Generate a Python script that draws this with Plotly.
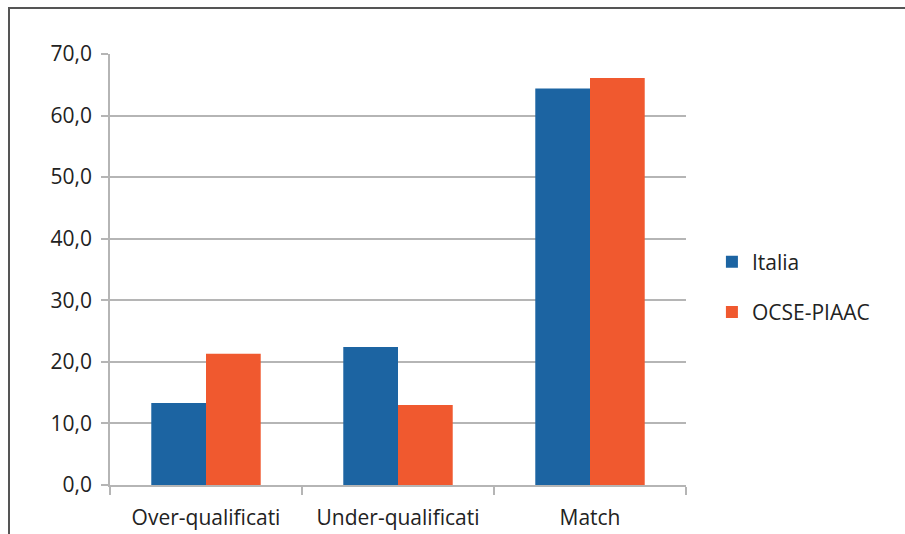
import plotly.graph_objects as go

categories = ["Over-qualificati", "Under-qualificati", "Match"]
italia = [13.3, 22.4, 64.4]
ocse = [21.3, 13.0, 66.1]
tick_vals = [0, 10, 20, 30, 40, 50, 60, 70]
tick_text = ["0,0", "10,0", "20,0", "30,0", "40,0", "50,0", "60,0", "70,0"]

fig = go.Figure()
fig.add_trace(go.Bar(x=categories, y=italia, name="Italia", marker_color="#1C64A2",
                     marker_line_width=0, legendgroup="a"))
fig.add_trace(go.Bar(x=categories, y=ocse, name="OCSE-PIAAC", marker_color="#F0592F",
                     marker_line_width=0, legendgroup="b"))

font = "Open Sans, Liberation Sans, sans-serif"
fig.update_layout(
    width=905, height=534,
    margin=dict(l=110, r=219, t=54, b=49, autoexpand=False),
    paper_bgcolor="white", plot_bgcolor="white",
    barmode="group", bargap=0.43, bargroupgap=0,
    font=dict(family=font, size=21, color="#222"),
    legend=dict(x=1.045, y=0.459, xanchor="left", yanchor="middle",
                font=dict(size=21, color="#222"), tracegroupgap=20,
                traceorder="grouped", itemwidth=30),
    showlegend=True,
)
fig.update_yaxes(range=[0, 70], tickvals=tick_vals, ticktext=tick_text,
                 showgrid=True, gridcolor="#B5B5B5", gridwidth=1.5,
                 showline=True, linecolor="#B5B5B5", linewidth=1.5,
                 ticks="outside", ticklen=7, tickcolor="#B5B5B5", tickwidth=1.5,
                 ticklabelstandoff=5, automargin=False,
                 zeroline=False, tickfont=dict(size=21, color="#222"))
fig.update_xaxes(showline=True, linecolor="#B5B5B5", linewidth=1.5,
                 ticks="outside", ticklen=8, tickcolor="#B5B5B5", tickwidth=1.5,
                 ticklabelstandoff=13, automargin=False,
                 tickson="boundaries", tickfont=dict(size=21, color="#222"))

# outer frame
fig.add_shape(type="rect", xref="paper", yref="paper",
              x0=(9 - 110) / 576, x1=(930 - 110) / 576,
              y0=(485 - 580) / 431, y1=(485 - 8) / 431,
              line=dict(color="#555555", width=2), fillcolor="rgba(0,0,0,0)",
              layer="below")

fig.write_html("out.html", config={"displayModeBar": False},
               post_script="document.body.style.margin='0';")
